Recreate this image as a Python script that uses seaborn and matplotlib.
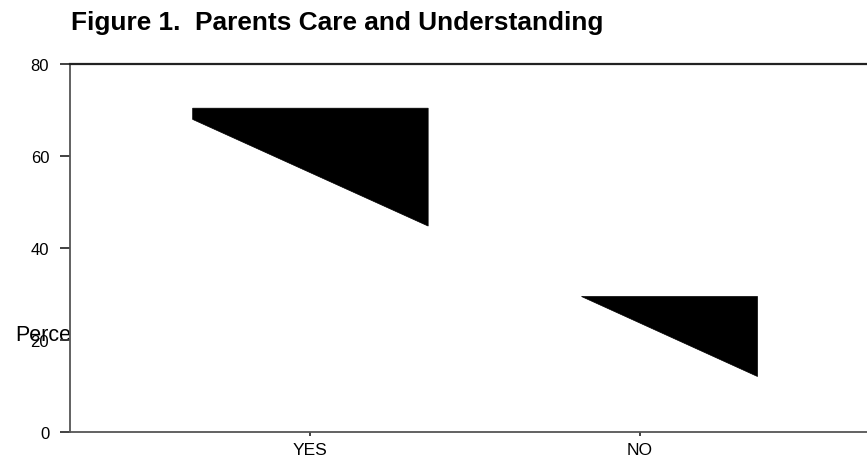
import matplotlib
matplotlib.use("Agg")
import matplotlib.pyplot as plt
import seaborn as sns
import pandas as pd
from matplotlib.patches import Polygon

# ---- data ----
categories = ["YES", "NO"]
percent = [70.4, 29.6]          # bar heights (Percent)
cut_right = [44.8, 12.2]        # where the broken bar fill meets the bar's right edge
yticks = [0, 20, 40, 60, 80]
title = "Figure 1.  Parents Care and Understanding"
ylabel = "Percent"

sns.set_theme(style="white")
plt.rcParams['font.family'] = ['Liberation Sans', 'DejaVu Sans']
plt.rcParams['text.color'] = 'black'

W, H = 867, 460
fig = plt.figure(figsize=(W / 100, H / 100), dpi=100)
ax = fig.add_axes([70 / W, 1 - 433.3 / H, 1 - 70 / W, (433.3 - 65) / H])
ax.set_facecolor("white")

df = pd.DataFrame({"answer": categories, "percent": percent})
sns.barplot(data=df, x="answer", y="percent", color="black", width=0.715,
            errorbar=None, ax=ax, saturation=1)

# reproduce the broken (diagonally cut) fill of each bar
SLOPE = 32.4  # data-y per data-x of the cutting diagonal
bars = list(ax.patches)
for bar, h, c in zip(bars, percent, cut_right):
    x0 = bar.get_x()
    x1 = x0 + bar.get_width()
    y_left = c + SLOPE * (x1 - x0)
    if y_left >= h:
        xh = x1 - (h - c) / SLOPE
        verts = [(xh, h), (x1, h), (x1, c)]
    else:
        verts = [(x0, h), (x1, h), (x1, c), (x0, y_left)]
    bar.set_visible(False)
    ax.add_patch(Polygon(verts, closed=True, facecolor="black",
                         edgecolor="black", linewidth=0.5, zorder=3))

ax.set_xlim(-0.73, 1.69)
ax.set_ylim(0, 80)
ax.set_yticks(yticks)
ax.set_yticklabels([str(t) for t in yticks])
ax.set_xlabel("")
ax.set_ylabel("")

for side in ["left", "bottom"]:
    ax.spines[side].set_color("#555555")
    ax.spines[side].set_linewidth(1.3)
ax.spines["top"].set_color("#222222")
ax.spines["top"].set_linewidth(1.6)
ax.spines["right"].set_visible(False)

ax.tick_params(axis="y", which="major", left=True, length=7, width=1.3,
               color="#333333", labelsize=12, pad=8, labelcolor="black")
ax.tick_params(axis="x", which="major", bottom=True, length=3, width=1.3,
               color="#333333", labelsize=12.5, pad=4, labelcolor="black")

# y-axis label sits behind the axes, so only "Perce" shows
fig.text(15 / W, 1 - 341 / H, ylabel, fontsize=15.5, ha="left", va="baseline",
         color="black", zorder=-1)

fig.text(71 / W, 1 - 30 / H, title, fontsize=18.9, fontweight="bold",
         ha="left", va="baseline", color="black")

fig.savefig("out.png", dpi=100, facecolor="white")
